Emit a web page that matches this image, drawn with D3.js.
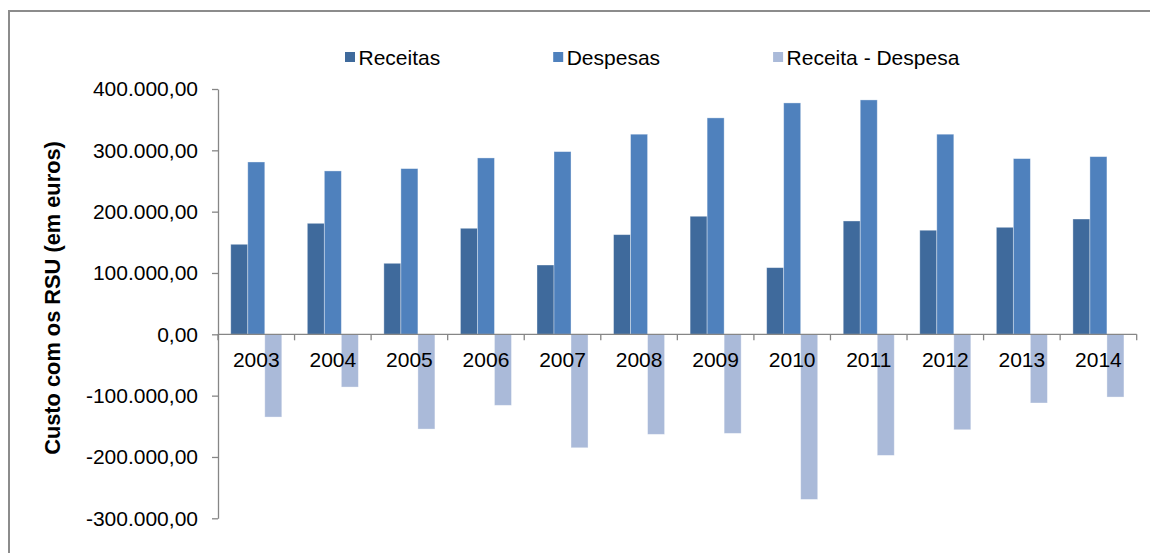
<!DOCTYPE html>
<html>
<head>
<meta charset="utf-8">
<script src="https://cdn.jsdelivr.net/npm/d3@7/dist/d3.min.js"></script>
<style>
  html, body { margin: 0; padding: 0; background: #fff; }
  svg { display: block; }
  text { font-family: "Liberation Sans", Arial, sans-serif; fill: #000; }
</style>
</head>
<body>
<svg id="chart" width="1150" height="553"></svg>
<script>
// Receitas e despesas com RSU (euros), 2003-2014
const years = ["2003","2004","2005","2006","2007","2008","2009","2010","2011","2012","2013","2014"];
const receitas = [146800, 181000, 115800, 172900, 113000, 162500, 192500, 108700, 184800, 169700, 174500, 188000];
const despesas = [281000, 266400, 270200, 287600, 297900, 326300, 352900, 377300, 382200, 326300, 286500, 289700];
const saldo    = [-134900, -86000, -154500, -115800, -185000, -163100, -161500, -269200, -197400, -155600, -112000, -102300];

const seriesNames = ["Receitas", "Despesas", "Receita - Despesa"];
const seriesColors = ["#3f6a9c", "#4f81bd", "#aabad9"];
const yTicks = [-300000, -200000, -100000, 0, 100000, 200000, 300000, 400000];

const svg = d3.select("#chart");
const W = 1150, H = 553;

// chart frame (runs off the right and bottom edges)
svg.append("rect")
  .attr("x", 9).attr("y", 11)
  .attr("width", W + 50).attr("height", H + 50)
  .attr("fill", "none").attr("stroke", "#8c8c8c").attr("stroke-width", 2);

const plot = { left: 218, right: 1136.7, top: 89, bottom: 518.3 };

const y = d3.scaleLinear()
  .domain([d3.min(yTicks), d3.max(yTicks)])
  .range([plot.bottom, plot.top]);

const x0 = d3.scaleBand()
  .domain(years)
  .range([plot.left, plot.right])
  .paddingInner(0).paddingOuter(0);

const x1 = d3.scaleBand()
  .domain(seriesNames)
  .range([0, x0.bandwidth()])
  .paddingInner(0).paddingOuter(0.75);

const color = d3.scaleOrdinal().domain(seriesNames).range(seriesColors);

const pt = d3.formatLocale({
  decimal: ",", thousands: ".", grouping: [3], currency: ["", " €"], minus: "-"
});
const fmt = pt.format(",.2f");

// bars
const rows = years.map((yr, i) => ({
  year: yr,
  values: [
    { key: seriesNames[0], v: receitas[i] },
    { key: seriesNames[1], v: despesas[i] },
    { key: seriesNames[2], v: saldo[i] }
  ]
}));

const groups = svg.append("g").selectAll("g")
  .data(rows).join("g")
  .attr("transform", d => `translate(${x0(d.year)},0)`);

groups.selectAll("rect")
  .data(d => d.values).join("rect")
  .attr("x", d => x1(d.key))
  .attr("width", x1.bandwidth())
  .attr("y", d => y(Math.max(0, d.v)))
  .attr("height", d => Math.abs(y(d.v) - y(0)))
  .attr("fill", d => color(d.key))
  .attr("stroke", "rgba(255,255,255,0.45)")
  .attr("stroke-width", 0.8);

// y axis
const yAxis = svg.append("g")
  .attr("transform", `translate(${plot.left},0)`)
  .call(d3.axisLeft(y).tickValues(yTicks).tickFormat(fmt)
    .tickSizeInner(6).tickSizeOuter(0).tickPadding(14));
yAxis.select(".domain").attr("stroke", "#868686").attr("stroke-width", 1.3);
yAxis.selectAll(".tick line").attr("stroke", "#868686").attr("stroke-width", 1.3);
yAxis.selectAll(".tick text")
  .attr("font-family", "Liberation Sans, Arial, sans-serif")
  .attr("font-size", 21).attr("fill", "#000");

// x axis at zero: line, boundary ticks, year labels
const y0 = y(0);
const xAxis = svg.append("g").attr("transform", `translate(0,${y0})`);
xAxis.append("line")
  .attr("x1", plot.left).attr("x2", plot.right)
  .attr("stroke", "#868686").attr("stroke-width", 1.3);
const bounds = years.map(d => x0(d)).concat([x0.range()[1]]);
xAxis.selectAll("line.tk")
  .data(bounds).join("line").attr("class", "tk")
  .attr("x1", d => d).attr("x2", d => d)
  .attr("y1", 0).attr("y2", 6)
  .attr("stroke", "#868686").attr("stroke-width", 1.3);
xAxis.selectAll("text")
  .data(years).join("text")
  .attr("x", d => x0(d) + x0.bandwidth() / 2)
  .attr("y", 32.7)
  .attr("text-anchor", "middle")
  .attr("font-size", 21)
  .text(d => d);

// y axis title
svg.append("text")
  .attr("transform", "translate(60,298) rotate(-90)")
  .attr("text-anchor", "middle")
  .attr("font-size", 21.8)
  .attr("font-weight", "bold")
  .text("Custo com os RSU (em euros)");

// legend
const legend = svg.append("g").attr("transform", "translate(0,57)");
let lx = 345;
seriesNames.forEach((name, i) => {
  legend.append("rect")
    .attr("x", lx).attr("y", -5)
    .attr("width", 10).attr("height", 10)
    .attr("fill", seriesColors[i]);
  const t = legend.append("text")
    .attr("x", lx + 13.5).attr("y", 7.5)
    .attr("font-size", 21)
    .text(name);
  lx = lx + 13.5 + t.node().getComputedTextLength() + 113;
});
</script>
</body>
</html>
